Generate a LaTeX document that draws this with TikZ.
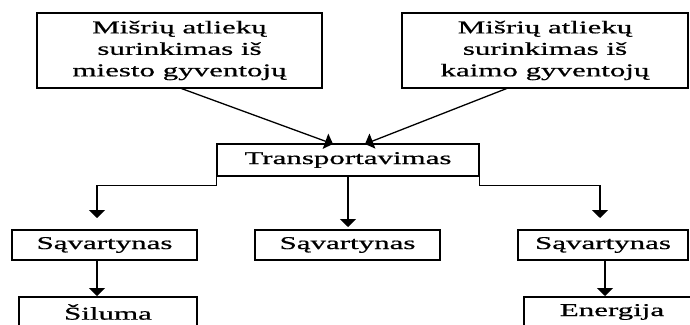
\documentclass[tikz,border=0pt]{standalone}
\usepackage{fontspec}
\setmainfont{Liberation Serif}[FakeStretch=1.72,FakeBold=0.7]
\usetikzlibrary{arrows.meta}
\tikzset{
  box/.style={draw, line width=1.2pt, inner sep=0pt, align=center,
    font=\fontsize{18}{21.5}\selectfont},
  arr/.style={line width=1.3pt, -{Triangle[width=16pt,length=8pt]}},
}
\begin{document}
\begin{tikzpicture}[x=1pt,y=-1pt]
\useasboundingbox (0,0) rectangle (690,324);
\clip (0,0) rectangle (690,324);
\fill[white] (0,0) rectangle (690,324);

\node[box, minimum width=285pt, minimum height=75pt] (A) at (179.5,50.5)
  {Mišrių atliekų\\surinkimas iš\\miesto gyventojų};
\node[box, minimum width=286pt, minimum height=75pt] (B) at (545,50.5)
  {Mišrių atliekų\\surinkimas iš\\kaimo gyventojų};
\node[box, minimum width=262pt, minimum height=32pt] (T) at (348,160)
  {Transportavimas};
\node[box, minimum width=185pt, minimum height=30pt] (S1) at (104.5,245) {Sąvartynas};
\node[box, minimum width=185pt, minimum height=30pt] (S2) at (347.5,245) {Sąvartynas};
\node[box, minimum width=170pt, minimum height=30pt] (S3) at (603,245) {Sąvartynas};
\node[box, minimum width=178pt, minimum height=30pt] (H) at (108,312) {Šiluma};
\node[box, minimum width=176pt, minimum height=30pt] (E) at (612,312) {Energija};

\coordinate (a0) at (180,88);
\coordinate (a1) at (333,144);
\coordinate (b0) at (508,88);
\coordinate (b1) at (365,144);
\draw[arr] (a0) -- (a1);
\draw[arr] (b0) -- (b1);

\coordinate (l1) at (97,218);
\coordinate (r1) at (600,218);
\coordinate (m0) at (348,176);
\coordinate (m1) at (348,227);
\draw[arr] (T.south west) -- ++(0,9) -| (l1);
\draw[arr] (T.south east) -- ++(0,9) -| (r1);
\draw[arr] (m0) -- (m1);

\coordinate (h0) at (97,260);
\coordinate (h1) at (97,296);
\coordinate (e0) at (605,260);
\coordinate (e1) at (605,296);
\draw[arr] (h0) -- (h1);
\draw[arr] (e0) -- (e1);
\end{tikzpicture}
\end{document}
